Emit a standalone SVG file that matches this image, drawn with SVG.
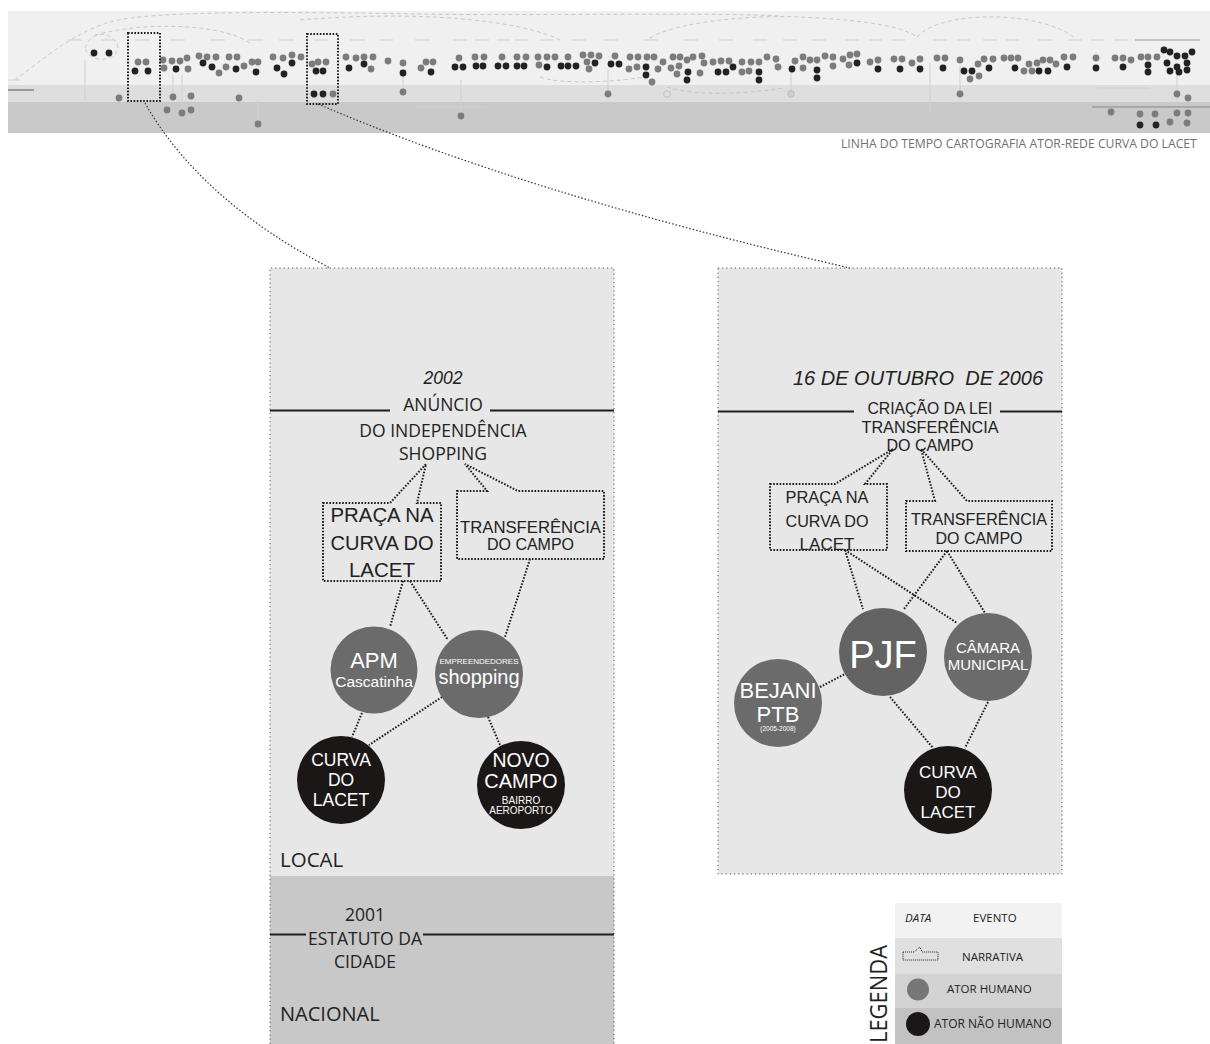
<svg xmlns="http://www.w3.org/2000/svg" width="1210" height="1044" viewBox="0 0 1210 1044">
<style>
.dot{fill:none;stroke:#1a1a1a;stroke-width:2;stroke-dasharray:1.6 1.6}
.zoomln{fill:none;stroke:#333;stroke-width:1.2;stroke-dasharray:1.5 2}
.border{fill:none;stroke:#555;stroke-width:1;stroke-dasharray:1.2 3}
.tl{stroke:#1e1e1e;stroke-width:2}
.h{fill:#6b6b6b}
.n{fill:#1c1717}
.sg{fill:#7c7c7c}
.sb{fill:#222}
.arc{fill:none;stroke:#bdbdbd;stroke-width:0.8;stroke-dasharray:4 3}
.lbl{stroke:#cfcfcf;stroke-width:1}
.os{font-family:'Open Sans','Liberation Sans',sans-serif;fill:#222}
.ar{font-family:'Liberation Sans',Arial,sans-serif;fill:#222}
.w{font-family:'Liberation Sans',Arial,sans-serif;fill:#fff;text-anchor:middle}
.c{text-anchor:middle}
</style>
<defs>
<circle id="cg" r="3.4" class="sg"/>
<circle id="cb" r="3.4" class="sb"/>
</defs>
<rect width="1210" height="1044" fill="#fff"/>

<g id="timeline-strip">
<rect x="8" y="11" width="1202" height="74" fill="#f0f0f0"/>
<rect x="8" y="85" width="1202" height="17" fill="#dedede"/>
<rect x="8" y="102" width="1202" height="31" fill="#c9c9c9"/>
<path class="arc" d="M15,80 C40,62 70,34 110,22 S300,12 420,14 S700,12 780,16"/>
<path class="arc" d="M95,35 C150,20 230,25 252,45"/>
<path class="arc" d="M650,38 C680,20 760,15 800,17 C860,20 900,25 917,37"/>
<path class="arc" d="M917,37 C940,10 1040,10 1075,38"/>
<path class="arc" d="M540,77 C560,85 620,82 650,76"/>
<path class="arc" d="M667,87 C700,98 760,92 783,88"/>
<path class="arc" d="M85,48 C90,30 115,30 118,48 C116,62 90,64 85,48"/>
<path class="arc" d="M300,20 C420,10 520,20 560,40"/>
<g class="lbl">
<line x1="8" y1="90" x2="34" y2="90" stroke="#555"/><line x1="8" y1="80" x2="20" y2="80"/>
<line x1="85" y1="60" x2="85" y2="100"/>
<line x1="403" y1="73" x2="403" y2="92"/><line x1="608" y1="70" x2="608" y2="94"/>
<line x1="960" y1="65" x2="960" y2="94"/><line x1="791" y1="68" x2="791" y2="94"/>
<line x1="1177" y1="72" x2="1177" y2="113"/><line x1="173" y1="75" x2="173" y2="97"/>
<line x1="182" y1="75" x2="182" y2="113"/><line x1="258" y1="100" x2="258" y2="124"/>
<line x1="461" y1="80" x2="461" y2="116"/><line x1="415" y1="107" x2="485" y2="107"/>
<line x1="1092" y1="107" x2="1210" y2="107" stroke="#888"/>
<line x1="1097" y1="88" x2="1150" y2="88"/>
<line x1="930" y1="62" x2="930" y2="112"/>
</g>
<g class="lbl">
<line x1="68" y1="40" x2="82" y2="40"/><line x1="101" y1="40" x2="115" y2="40"/>
<line x1="135" y1="40" x2="150" y2="40"/><line x1="170" y1="40" x2="185" y2="40"/><line x1="210" y1="40" x2="225" y2="40"/>
<line x1="248" y1="40" x2="263" y2="40"/><line x1="279" y1="40" x2="294" y2="40"/><line x1="314" y1="40" x2="328" y2="40"/>
<line x1="350" y1="40" x2="365" y2="40"/><line x1="380" y1="40" x2="393" y2="40"/><line x1="415" y1="40" x2="430" y2="40"/>
<line x1="453" y1="40" x2="467" y2="40"/><line x1="475" y1="40" x2="489" y2="40"/><line x1="497" y1="40" x2="510" y2="40"/>
<line x1="515" y1="40" x2="528" y2="40"/><line x1="540" y1="40" x2="553" y2="40"/><line x1="572" y1="40" x2="586" y2="40"/>
<line x1="604" y1="40" x2="618" y2="40"/><line x1="644" y1="40" x2="658" y2="40"/><line x1="684" y1="40" x2="698" y2="40"/>
<line x1="719" y1="40" x2="733" y2="40"/><line x1="753" y1="40" x2="767" y2="40"/><line x1="783" y1="40" x2="797" y2="40"/>
<line x1="812" y1="40" x2="826" y2="40"/><line x1="845" y1="40" x2="859" y2="40"/><line x1="869" y1="40" x2="882" y2="40"/>
<line x1="892" y1="40" x2="905" y2="40"/><line x1="933" y1="40" x2="947" y2="40"/><line x1="957" y1="40" x2="970" y2="40"/>
<line x1="983" y1="40" x2="997" y2="40"/><line x1="1006" y1="40" x2="1019" y2="40"/><line x1="1038" y1="40" x2="1052" y2="40"/>
<line x1="1068" y1="40" x2="1082" y2="40"/><line x1="1091" y1="40" x2="1104" y2="40"/><line x1="1114" y1="40" x2="1128" y2="40"/>
<line x1="1135" y1="40" x2="1200" y2="40" stroke="#999"/>
</g>
<g>
<use href="#cg" x="138" y="62"/><use href="#cg" x="146" y="62"/><use href="#cg" x="163" y="60"/><use href="#cg" x="164" y="68"/><use href="#cg" x="172" y="61"/><use href="#cg" x="180" y="61"/><use href="#cg" x="187" y="58"/><use href="#cg" x="188" y="69"/><use href="#cg" x="199" y="56"/><use href="#cg" x="207" y="57"/><use href="#cg" x="216" y="57"/><use href="#cg" x="219" y="73"/><use href="#cg" x="226" y="67"/><use href="#cg" x="229" y="57"/><use href="#cg" x="237" y="57"/><use href="#cg" x="244" y="66"/><use href="#cg" x="252" y="62"/><use href="#cg" x="258" y="62"/><use href="#cg" x="273" y="57"/><use href="#cg" x="283" y="58"/><use href="#cg" x="292" y="55"/><use href="#cg" x="301" y="57"/><use href="#cg" x="312" y="64"/><use href="#cg" x="318" y="62"/><use href="#cg" x="326" y="62"/><use href="#cg" x="333" y="94"/><use href="#cg" x="346" y="57"/><use href="#cg" x="356" y="58"/><use href="#cg" x="364" y="57"/><use href="#cg" x="373" y="57"/><use href="#cg" x="371" y="69"/><use href="#cg" x="388" y="61"/><use href="#cg" x="119" y="98"/><use href="#cg" x="173" y="97"/><use href="#cg" x="191" y="96"/><use href="#cg" x="167" y="110"/><use href="#cg" x="182" y="113"/><use href="#cg" x="191" y="110"/><use href="#cg" x="239" y="98"/><use href="#cg" x="258" y="124"/><use href="#cg" x="403" y="63"/><use href="#cg" x="403" y="92"/><use href="#cg" x="421" y="68"/><use href="#cg" x="426" y="62"/><use href="#cg" x="433" y="62"/><use href="#cg" x="459" y="58"/><use href="#cg" x="475" y="57"/><use href="#cg" x="484" y="57"/><use href="#cg" x="502" y="57"/><use href="#cg" x="517" y="57"/><use href="#cg" x="526" y="57"/><use href="#cg" x="538" y="57"/><use href="#cg" x="547" y="57"/><use href="#cg" x="555" y="57"/><use href="#cg" x="539" y="65"/><use href="#cg" x="568" y="57"/><use href="#cg" x="583" y="55"/><use href="#cg" x="591" y="55"/><use href="#cg" x="599" y="56"/><use href="#cg" x="587" y="62"/><use href="#cg" x="589" y="69"/><use href="#cg" x="615" y="56"/><use href="#cg" x="608" y="94"/><use href="#cg" x="461" y="116"/><use href="#cg" x="630" y="57"/><use href="#cg" x="638" y="57"/><use href="#cg" x="647" y="57"/><use href="#cg" x="654" y="57"/><use href="#cg" x="629" y="69"/><use href="#cg" x="637" y="67"/><use href="#cg" x="658" y="69"/><use href="#cg" x="663" y="62"/><use href="#cg" x="652" y="82"/><use href="#cg" x="671" y="68"/><use href="#cg" x="673" y="57"/><use href="#cg" x="680" y="57"/><use href="#cg" x="687" y="60"/><use href="#cg" x="693" y="57"/><use href="#cg" x="702" y="56"/><use href="#cg" x="679" y="66"/><use href="#cg" x="677" y="74"/><use href="#cg" x="700" y="73"/><use href="#cg" x="704" y="63"/><use href="#cg" x="713" y="62"/><use href="#cg" x="721" y="61"/><use href="#cg" x="729" y="61"/><use href="#cg" x="742" y="72"/><use href="#cg" x="742" y="62"/><use href="#cg" x="751" y="62"/><use href="#cg" x="759" y="62"/><use href="#cg" x="749" y="71"/><use href="#cg" x="767" y="57"/><use href="#cg" x="776" y="59"/><use href="#cg" x="778" y="67"/><use href="#cg" x="795" y="61"/><use href="#cg" x="803" y="57"/><use href="#cg" x="810" y="60"/><use href="#cg" x="817" y="60"/><use href="#cg" x="825" y="56"/><use href="#cg" x="833" y="57"/><use href="#cg" x="833" y="66"/><use href="#cg" x="803" y="68"/><use href="#cg" x="843" y="59"/><use href="#cg" x="850" y="55"/><use href="#cg" x="857" y="54"/><use href="#cg" x="849" y="65"/><use href="#cg" x="870" y="62"/><use href="#cg" x="878" y="60"/><use href="#cg" x="894" y="59"/><use href="#cg" x="902" y="59"/><use href="#cg" x="912" y="63"/><use href="#cg" x="920" y="59"/><use href="#cg" x="937" y="58"/><use href="#cg" x="945" y="58"/><use href="#cg" x="960" y="60"/><use href="#cg" x="970" y="79"/><use href="#cg" x="979" y="76"/><use href="#cg" x="978" y="64"/><use href="#cg" x="984" y="59"/><use href="#cg" x="993" y="59"/><use href="#cg" x="1004" y="58"/><use href="#cg" x="1011" y="58"/><use href="#cg" x="1018" y="58"/><use href="#cg" x="1024" y="71"/><use href="#cg" x="1029" y="64"/><use href="#cg" x="1032" y="71"/><use href="#cg" x="1037" y="63"/><use href="#cg" x="1043" y="60"/><use href="#cg" x="1050" y="60"/><use href="#cg" x="1056" y="64"/><use href="#cg" x="1064" y="57"/><use href="#cg" x="1073" y="57"/><use href="#cg" x="1096" y="58"/><use href="#cg" x="1115" y="58"/><use href="#cg" x="1123" y="58"/><use href="#cg" x="1131" y="60"/><use href="#cg" x="1141" y="57"/><use href="#cg" x="1148" y="57"/><use href="#cg" x="1157" y="57"/><use href="#cg" x="960" y="94"/><use href="#cg" x="1177" y="94"/><use href="#cg" x="1188" y="98"/><use href="#cg" x="1111" y="112"/><use href="#cg" x="1140" y="114"/><use href="#cg" x="1155" y="114"/><use href="#cg" x="1177" y="113"/><use href="#cg" x="1188" y="113"/><use href="#cg" x="1170" y="122"/><use href="#cg" x="1187" y="123"/>
<circle cx="791" cy="94" r="3.3" fill="#cfcfcf" stroke="#aaa" stroke-width="0.6"/>
<circle cx="667" cy="94" r="3.3" fill="#e0e0e0" stroke="#aaa" stroke-width="0.6"/>
</g>
<g>
<use href="#cb" x="94" y="53"/><use href="#cb" x="109" y="53"/><use href="#cb" x="135" y="71"/><use href="#cb" x="148" y="71"/><use href="#cb" x="176" y="69"/><use href="#cb" x="203" y="63"/><use href="#cb" x="212" y="67"/><use href="#cb" x="236" y="69"/><use href="#cb" x="256" y="72"/><use href="#cb" x="292" y="63"/><use href="#cb" x="277" y="68"/><use href="#cb" x="284" y="74"/><use href="#cb" x="316" y="71"/><use href="#cb" x="323" y="71"/><use href="#cb" x="314" y="94"/><use href="#cb" x="323" y="94"/><use href="#cb" x="349" y="68"/><use href="#cb" x="364" y="64"/><use href="#cb" x="403" y="73"/><use href="#cb" x="431" y="72"/><use href="#cb" x="455" y="67"/><use href="#cb" x="463" y="67"/><use href="#cb" x="476" y="66"/><use href="#cb" x="483" y="66"/><use href="#cb" x="498" y="66"/><use href="#cb" x="506" y="66"/><use href="#cb" x="517" y="66"/><use href="#cb" x="524" y="66"/><use href="#cb" x="547" y="67"/><use href="#cb" x="561" y="66"/><use href="#cb" x="568" y="66"/><use href="#cb" x="576" y="66"/><use href="#cb" x="595" y="63"/><use href="#cb" x="611" y="64"/><use href="#cb" x="619" y="64"/><use href="#cb" x="646" y="67"/><use href="#cb" x="646" y="75"/><use href="#cb" x="688" y="72"/><use href="#cb" x="687" y="80"/><use href="#cb" x="718" y="72"/><use href="#cb" x="726" y="72"/><use href="#cb" x="733" y="67"/><use href="#cb" x="759" y="72"/><use href="#cb" x="759" y="80"/><use href="#cb" x="792" y="69"/><use href="#cb" x="817" y="70"/><use href="#cb" x="817" y="78"/><use href="#cb" x="857" y="63"/><use href="#cb" x="878" y="69"/><use href="#cb" x="900" y="69"/><use href="#cb" x="920" y="69"/><use href="#cb" x="943" y="68"/><use href="#cb" x="964" y="71"/><use href="#cb" x="972" y="71"/><use href="#cb" x="989" y="68"/><use href="#cb" x="1015" y="68"/><use href="#cb" x="1039" y="71"/><use href="#cb" x="1048" y="71"/><use href="#cb" x="1067" y="67"/><use href="#cb" x="1096" y="68"/><use href="#cb" x="1123" y="67"/><use href="#cb" x="1148" y="65"/><use href="#cb" x="1148" y="72"/><use href="#cb" x="1164" y="50"/><use href="#cb" x="1170" y="52"/><use href="#cb" x="1177" y="56"/><use href="#cb" x="1185" y="56"/><use href="#cb" x="1192" y="52"/><use href="#cb" x="1167" y="63"/><use href="#cb" x="1177" y="67"/><use href="#cb" x="1187" y="63"/><use href="#cb" x="1170" y="71"/><use href="#cb" x="1179" y="72"/><use href="#cb" x="1187" y="70"/><use href="#cb" x="1140" y="125"/><use href="#cb" x="1156" y="125"/>
</g>
<rect x="128" y="33" width="32" height="68" class="dot" stroke-width="1.3"/>
<rect x="307" y="34" width="31" height="70" class="dot" stroke-width="1.3"/>
</g>

<text x="841" y="148" class="os" font-size="12.2" style="fill:#707070">LINHA DO TEMPO CARTOGRAFIA ATOR-REDE CURVA DO LACET</text>

<g id="panel-2002">
<rect x="270" y="268" width="344" height="608" fill="#e7e7e7"/>
<rect x="270" y="876" width="344" height="168" fill="#c8c8c8"/>
<path class="border" d="M270,1044 V268 H614 V1044"/>
<line class="tl" x1="270" y1="410.5" x2="390" y2="410.5"/>
<line class="tl" x1="490" y1="410.5" x2="614" y2="410.5"/>
<text x="443" y="384" class="ar c" font-size="17.5" font-style="italic">2002</text>
<text x="443" y="411" class="os c" font-size="17.5">ANÚNCIO</text>
<text x="443" y="436.5" class="os c" font-size="17.5">DO INDEPENDÊNCIA</text>
<text x="443" y="459.5" class="os c" font-size="17.5">SHOPPING</text>
<text x="280" y="867" class="os" font-size="20.5">LOCAL</text>
<line class="tl" x1="270" y1="934.5" x2="306" y2="934.5" stroke-width="1.6"/>
<line class="tl" x1="423" y1="934.5" x2="614" y2="934.5" stroke-width="1.6"/>
<text x="365" y="921" class="os c" font-size="17.5">2001</text>
<text x="365" y="945" class="os c" font-size="17.5">ESTATUTO DA</text>
<text x="365" y="967.5" class="os c" font-size="17.5">CIDADE</text>
<text x="280" y="1021" class="os" font-size="20">NACIONAL</text>
</g>

<g id="panel-2006">
<rect x="718" y="268" width="344" height="606" fill="#e7e7e7"/>
<rect x="718" y="268" width="344" height="606" class="border"/>
<line class="tl" x1="718" y1="411.5" x2="854" y2="411.5"/>
<line class="tl" x1="1000" y1="411.5" x2="1062" y2="411.5"/>
<text x="918" y="385" class="ar c" font-size="20" font-style="italic" xml:space="preserve">16 DE OUTUBRO  DE 2006</text>
<text x="930" y="414" class="ar c" font-size="16" textLength="125" lengthAdjust="spacingAndGlyphs">CRIAÇÃO DA LEI</text>
<text x="930" y="433" class="ar c" font-size="16" textLength="137" lengthAdjust="spacingAndGlyphs">TRANSFERÊNCIA</text>
<text x="930" y="451" class="ar c" font-size="16">DO CAMPO</text>
</g>

<g id="connectors">
<path class="zoomln" d="M145,103 Q200,200 330,268"/>
<path class="zoomln" d="M318,104 Q530,195 850,268"/>
<line class="dot" x1="403" y1="581" x2="390" y2="627"/>
<line class="dot" x1="410" y1="581" x2="448" y2="640"/>
<line class="dot" x1="530" y1="559" x2="505" y2="637"/>
<line class="dot" x1="362" y1="713" x2="352" y2="737"/>
<line class="dot" x1="442" y1="697" x2="369" y2="745"/>
<line class="dot" x1="488" y1="717" x2="500" y2="745"/>
<line class="dot" x1="845" y1="550" x2="863" y2="609"/>
<line class="dot" x1="845" y1="550" x2="957" y2="623"/>
<line class="dot" x1="947" y1="551" x2="904" y2="609"/>
<line class="dot" x1="947" y1="551" x2="985" y2="613"/>
<line class="dot" x1="820" y1="687" x2="845" y2="674"/>
<line class="dot" x1="890" y1="697" x2="933" y2="748"/>
<line class="dot" x1="988" y1="702" x2="965" y2="748"/>
</g>

<g id="narrativa-praca-1">
<path class="dot" d="M323,503 H390 L426,464 L417,503 H441 V581 H323 Z"/>
<text x="382" y="522" class="ar c" font-size="20.5" textLength="103" lengthAdjust="spacingAndGlyphs">PRAÇA NA</text>
<text x="382" y="550" class="ar c" font-size="20.5" textLength="103" lengthAdjust="spacingAndGlyphs">CURVA DO</text>
<text x="382" y="577" class="ar c" font-size="20.5">LACET</text>
</g>
<g id="narrativa-transf-1">
<path class="dot" d="M457,491 H487 L465,464 L518,491 H604 V559 H457 Z"/>
<text x="530.5" y="533" class="ar c" font-size="16" textLength="141" lengthAdjust="spacingAndGlyphs">TRANSFERÊNCIA</text>
<text x="530.5" y="550" class="ar c" font-size="16">DO CAMPO</text>
</g>
<g id="apm">
<circle cx="374" cy="670" r="43.5" class="h"/>
<text x="374" y="668" class="w" font-size="22">APM</text>
<text x="374" y="687" class="w" font-size="15.5">Cascatinha</text>
</g>
<g id="shopping">
<circle cx="479" cy="674" r="44" class="h"/>
<text x="479" y="664" class="w" font-size="6.5" textLength="79" lengthAdjust="spacingAndGlyphs">EMPREENDEDORES</text>
<text x="479" y="684" class="w" font-size="20">shopping</text>
</g>
<g id="curva-1">
<circle cx="341" cy="780" r="44" class="n"/>
<text x="341" y="766" class="w" font-size="17.5">CURVA</text>
<text x="341" y="786" class="w" font-size="17.5">DO</text>
<text x="341" y="806" class="w" font-size="17.5">LACET</text>
</g>
<g id="novo-campo">
<circle cx="521" cy="785" r="44" class="n"/>
<text x="521" y="767" class="w" font-size="20" textLength="57" lengthAdjust="spacingAndGlyphs">NOVO</text>
<text x="521" y="788" class="w" font-size="20">CAMPO</text>
<text x="521" y="803.5" class="w" font-size="10">BAIRRO</text>
<text x="521" y="814" class="w" font-size="10">AEROPORTO</text>
</g>

<g id="narrativa-praca-2">
<path class="dot" d="M770,484 H835 L893,449 L865,484 H887 V550 H770 Z"/>
<text x="827" y="503" class="ar c" font-size="17" textLength="83" lengthAdjust="spacingAndGlyphs">PRAÇA NA</text>
<text x="827" y="527" class="ar c" font-size="17" textLength="83" lengthAdjust="spacingAndGlyphs">CURVA DO</text>
<text x="827" y="550" class="ar c" font-size="17">LACET</text>
</g>
<g id="narrativa-transf-2">
<path class="dot" d="M906,501 H935 L921,449 L967,501 H1052 V551 H906 Z"/>
<text x="979" y="525" class="ar c" font-size="16" textLength="136" lengthAdjust="spacingAndGlyphs">TRANSFERÊNCIA</text>
<text x="979" y="543.5" class="ar c" font-size="16">DO CAMPO</text>
</g>
<g id="pjf">
<circle cx="883" cy="652" r="44" class="h" style="fill:#636363"/>
<text x="883" y="668" class="w" font-size="38">PJF</text>
</g>
<g id="camara">
<circle cx="988" cy="657" r="44" class="h"/>
<text x="988" y="653" class="w" font-size="15">CÂMARA</text>
<text x="988" y="670" class="w" font-size="15">MUNICIPAL</text>
</g>
<g id="bejani">
<circle cx="778" cy="703" r="44" class="h"/>
<text x="778" y="698" class="w" font-size="22">BEJANI</text>
<text x="778" y="721.7" class="w" font-size="22">PTB</text>
<text x="778" y="731" class="w" font-size="6.5">(2005-2008)</text>
</g>
<g id="curva-2">
<circle cx="948" cy="790" r="44" class="n"/>
<text x="948" y="778" class="w" font-size="17">CURVA</text>
<text x="948" y="798" class="w" font-size="17">DO</text>
<text x="948" y="818" class="w" font-size="17">LACET</text>
</g>

<g id="legenda">
<rect x="895" y="903" width="167" height="35" fill="#f2f2f2"/>
<rect x="895" y="938" width="167" height="36" fill="#e0e0e0"/>
<rect x="895" y="974" width="167" height="34" fill="#d3d3d3"/>
<rect x="895" y="1008" width="167" height="36" fill="#c2c2c2"/>
<text x="905" y="922" class="os" font-size="11.5" font-style="italic">DATA</text>
<text x="973" y="922" class="os" font-size="11.5">EVENTO</text>
<path d="M903,952 H914 L920,947 L922,952 H938 V960 H903 Z" fill="none" stroke="#222" stroke-width="1" stroke-dasharray="1 1"/>
<text x="962" y="961" class="os" font-size="11.5">NARRATIVA</text>
<circle cx="918" cy="989.5" r="11" fill="#777"/>
<text x="947" y="993" class="os" font-size="11.5">ATOR HUMANO</text>
<circle cx="918" cy="1024" r="12" class="n"/>
<text x="934" y="1028" class="os" font-size="12">ATOR NÃO HUMANO</text>
<text transform="translate(887,1043) rotate(-90)" class="os" font-size="23" textLength="98" lengthAdjust="spacingAndGlyphs">LEGENDA</text>
</g>
</svg>
